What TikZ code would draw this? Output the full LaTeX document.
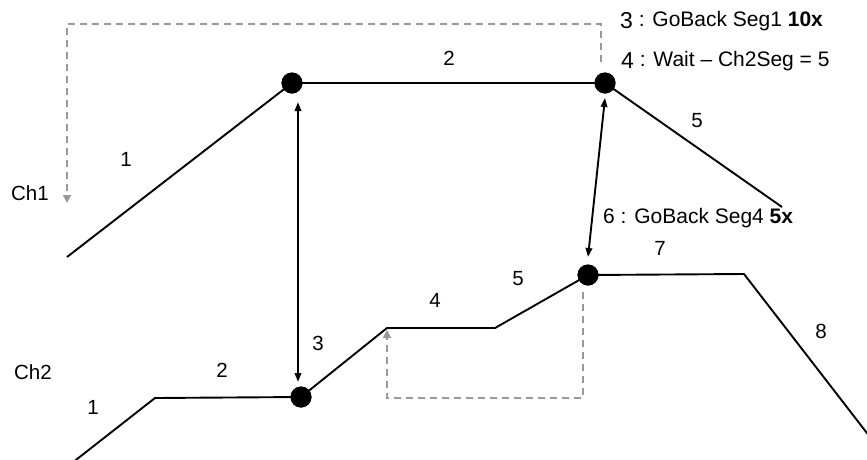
\documentclass[tikz,border=0pt]{standalone}
\usepackage{fontspec}
\setmainfont{Liberation Sans}
\usetikzlibrary{arrows.meta,calc}
\definecolor{backgrey}{RGB}{153,153,153}
\begin{document}
\begin{tikzpicture}[x=1pt,y=-1pt,
  wave/.style={line width=1.9pt, line join=miter},
  dot/.style={circle, fill=black, minimum size=21pt, inner sep=0pt},
  lbl/.style={font=\fontsize{20.5}{24}\selectfont, inner sep=0pt},
  note/.style={font=\fontsize{21}{24}\selectfont, inner sep=0pt, anchor=west},
  link/.style={line width=1.9pt, {Triangle[length=9pt,width=6.5pt]}-{Triangle[length=9pt,width=6.5pt]}},
  back/.style={line width=1.8pt, draw=backgrey, dash pattern=on 7pt off 5pt, -{Triangle[length=8pt,width=8pt]}}]
\useasboundingbox (0,0) rectangle (867,459);
\clip (0,0) rectangle (867,459);

% key points
\node[dot] (A) at (292,83) {};
\node[dot] (B) at (605,83) {};
\node[dot] (C) at (301,397) {};
\node[dot] (D) at (588,275) {};
\coordinate (c1s) at (67,257);
\coordinate (c1e) at (782,207);
\coordinate (c2s) at (72,463);
\coordinate (c2a) at (155,398);
\coordinate (c2b) at (387,328);
\coordinate (c2c) at (495,328);
\coordinate (c2d) at (744,274);
\coordinate (c2e) at (870,437);
\coordinate (g1a) at (601,24);
\coordinate (g1b) at (67,24);
\coordinate (g1c) at (67,203);
\coordinate (g2a) at (583,398);
\coordinate (g2b) at (387,398);

% channel 1
\draw[wave] (c1s) -- (A.center) -- (B.center) -- (c1e);
% channel 2
\draw[wave] (c2s) -- (c2a) -- (C.center) -- (c2b) -- (c2c) -- (D.center) -- (c2d) -- (c2e);
% redraw dots on top
\node[dot] at (A) {};
\node[dot] at (B) {};
\node[dot] at (C) {};
\node[dot] at (D) {};

% sync arrows
\draw[link] ($(A)+(6,19)$) -- ($(C)+(-3,-15)$);
\draw[link] ($(B)+(0,15)$) -- ($(D)+(0,-18)$);

% go-back dashed arrows
\draw[back] ($(B)+(-4,-21)$) -- (g1a) -- (g1b) -- (g1c);
\draw[back] ($(D)+(-5,17)$) -- (g2a) -- (g2b) -- ($(c2b)+(0,2)$);

% labels
\node[lbl] (ch1) at (30,193) {Ch1};
\node[lbl] (ch2) at (33,372) {Ch2};
\node[lbl] (s11) at (126,159) {1};
\node[lbl] (s12) at (449,58) {2};
\node[lbl] (s15) at (697,121) {5};
\node[lbl] (s21) at (93,407) {1};
\node[lbl] (s22) at (222,370) {2};
\node[lbl] (s23) at (318,343) {3};
\node[lbl] (s24) at (435,300) {4};
\node[lbl] (s25) at (518,279) {5};
\node[lbl] (s27) at (660,248) {7};
\node[lbl] (s28) at (821,331) {8};

\node[note] (n3) at (620,21) {\raisebox{-2pt}{\fontsize{23}{24}\selectfont 3} : GoBack Seg1 \textbf{10x}};
\node[note] (n4) at (621,61) {\raisebox{-2pt}{\fontsize{23}{24}\selectfont 4} : Wait – Ch2Seg = 5};
\node[note] (n6) at (603,218) {6 : GoBack Seg4 \textbf{5x}};
\end{tikzpicture}
\end{document}
